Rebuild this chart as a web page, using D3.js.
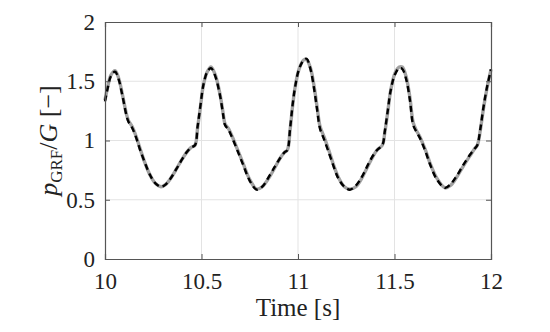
<!DOCTYPE html>
<html>
<head>
<meta charset="utf-8">
<script src="https://cdn.jsdelivr.net/npm/d3@7"></script>
<style>
  body { margin: 0; background: #fff; }
  text { font-family: "Liberation Serif", "DejaVu Serif", serif; }
</style>
</head>
<body>
<div id="chart"></div>
<script>
var time = [10.000, 10.015, 10.030, 10.052, 10.070, 10.090, 10.110, 10.121, 10.140, 10.160,
  10.180, 10.205, 10.233, 10.260, 10.290, 10.315, 10.344, 10.370, 10.395, 10.423,
  10.445, 10.466, 10.480, 10.495, 10.510, 10.530, 10.549, 10.570, 10.596, 10.612,
  10.622, 10.640, 10.660, 10.690, 10.717, 10.750, 10.786, 10.815, 10.855, 10.880,
  10.907, 10.930, 10.945, 10.959, 10.972, 10.985, 11.005, 11.030, 11.045, 11.065,
  11.085, 11.100, 11.114, 11.135, 11.157, 11.185, 11.209, 11.240, 11.269, 11.300,
  11.330, 11.355, 11.380, 11.410, 11.437, 11.450, 11.465, 11.480, 11.503, 11.525,
  11.540, 11.560, 11.580, 11.597, 11.615, 11.632, 11.660, 11.684, 11.720, 11.762,
  11.790, 11.822, 11.855, 11.891, 11.915, 11.929, 11.945, 11.960, 11.978, 12.000];

var model = [1.33, 1.45, 1.54, 1.58, 1.52, 1.38, 1.22, 1.16, 1.11, 1.03,
  0.93, 0.82, 0.71, 0.64, 0.61, 0.63, 0.69, 0.76, 0.83, 0.90,
  0.94, 0.96, 1.12, 1.30, 1.47, 1.58, 1.61, 1.55, 1.38, 1.22,
  1.13, 1.09, 1.02, 0.90, 0.79, 0.66, 0.585, 0.61, 0.71, 0.78,
  0.85, 0.90, 0.92, 1.10, 1.30, 1.45, 1.60, 1.68, 1.69, 1.60,
  1.42, 1.25, 1.10, 1.01, 0.91, 0.78, 0.68, 0.61, 0.585, 0.62,
  0.69, 0.77, 0.85, 0.92, 0.96, 1.08, 1.25, 1.42, 1.56, 1.61,
  1.605, 1.52, 1.34, 1.13, 1.07, 1.02, 0.91, 0.80, 0.67, 0.60,
  0.63, 0.70, 0.79, 0.88, 0.93, 0.96, 1.10, 1.27, 1.44, 1.60];

var measured = [1.34, 1.46, 1.55, 1.59, 1.53, 1.39, 1.23, 1.17, 1.12, 1.04,
  0.94, 0.82, 0.71, 0.64, 0.61, 0.63, 0.69, 0.76, 0.83, 0.90,
  0.94, 0.96, 1.11, 1.29, 1.47, 1.58, 1.62, 1.56, 1.39, 1.23,
  1.14, 1.10, 1.03, 0.91, 0.80, 0.67, 0.59, 0.61, 0.70, 0.77,
  0.85, 0.90, 0.92, 1.09, 1.29, 1.45, 1.60, 1.68, 1.68, 1.61,
  1.44, 1.27, 1.12, 1.03, 0.93, 0.79, 0.69, 0.61, 0.59, 0.61,
  0.68, 0.76, 0.84, 0.92, 0.96, 1.07, 1.24, 1.42, 1.57, 1.62,
  1.62, 1.54, 1.36, 1.15, 1.08, 1.03, 0.92, 0.81, 0.68, 0.60,
  0.62, 0.69, 0.78, 0.87, 0.93, 0.96, 1.09, 1.26, 1.43, 1.60];

var xTicks = [10, 10.5, 11, 11.5, 12];
var yTicks = [0, 0.5, 1, 1.5, 2];

var margin = { top: 22, left: 105, right: 59, bottom: 73 },
  width = 550 - margin.left - margin.right,
  height = 332 - margin.top - margin.bottom;

var serif = "'Liberation Serif', 'DejaVu Serif', serif";

var svg = d3.select("#chart").append("svg")
  .attr("width", 550)
  .attr("height", 332);

var g = svg.append("g")
  .attr("transform", "translate(" + margin.left + "," + margin.top + ")");

var x = d3.scaleLinear().domain([10, 12]).range([0, width]);
var y = d3.scaleLinear().domain([0, 2]).range([height, 0]);

// grid
g.append("g").selectAll("line")
  .data(xTicks.slice(1, -1))
  .enter().append("line")
  .attr("x1", d => x(d)).attr("x2", d => x(d))
  .attr("y1", 0).attr("y2", height)
  .attr("stroke", "#e3e3e3").attr("stroke-width", 1);

g.append("g").selectAll("line")
  .data(yTicks.slice(1, -1))
  .enter().append("line")
  .attr("x1", 0).attr("x2", width)
  .attr("y1", d => y(d)).attr("y2", d => y(d))
  .attr("stroke", "#e3e3e3").attr("stroke-width", 1);

// lines: measured (grey, solid) under model (black, dashed)
var line = d3.line()
  .x((d, i) => x(time[i]))
  .y(d => y(d))
  .curve(d3.curveCatmullRom.alpha(0.5));

g.append("path")
  .datum(measured)
  .attr("d", line)
  .attr("fill", "none")
  .attr("stroke", "#a2a2a2")
  .attr("stroke-width", 3.4);

g.append("path")
  .datum(model)
  .attr("d", line)
  .attr("fill", "none")
  .attr("stroke", "#000")
  .attr("stroke-width", 2.4)
  .attr("stroke-dasharray", "6,4");

// axes
var tickColor = "#555";
var xAxis = g.append("g")
  .attr("transform", "translate(0," + height + ")")
  .call(d3.axisBottom(x).tickValues(xTicks).tickSize(-5).tickPadding(14)
    .tickFormat(d3.format("")));
var xTop = g.append("g")
  .call(d3.axisTop(x).tickValues(xTicks).tickSize(-5).tickFormat(""));
var yAxis = g.append("g")
  .call(d3.axisLeft(y).tickValues(yTicks).tickSize(-5).tickPadding(10)
    .tickFormat(d3.format("")));
var yRight = g.append("g")
  .attr("transform", "translate(" + width + ",0)")
  .call(d3.axisRight(y).tickValues(yTicks).tickSize(-5).tickFormat(""));

[xAxis, xTop, yAxis, yRight].forEach(a => {
  a.attr("font-family", serif).attr("font-size", 23);
  a.select(".domain").attr("stroke", tickColor).attr("stroke-width", 1.2);
  a.selectAll(".tick line").attr("stroke", tickColor);
  a.selectAll("text").attr("fill", "#222");
});
xAxis.selectAll("text").attr("dy", "0.71em");

// labels
svg.append("text")
  .attr("x", margin.left + width / 2)
  .attr("y", 316)
  .attr("text-anchor", "middle")
  .attr("fill", "#222")
  .attr("font-family", serif)
  .attr("font-size", 25)
  .text("Time [s]");

var yl = svg.append("text")
  .attr("transform", "translate(57," + (margin.top + height / 2) + ") rotate(-90)")
  .attr("text-anchor", "middle")
  .attr("fill", "#222")
  .attr("font-family", serif)
  .attr("font-size", 26);
yl.append("tspan").style("font-style", "italic").text("p");
yl.append("tspan").attr("dy", 5).attr("font-size", 17).text("GRF");
yl.append("tspan").attr("dy", -5).text("/");
yl.append("tspan").style("font-style", "italic").text("G");
yl.append("tspan").text(" [\u2212]");
</script>
</body>
</html>
